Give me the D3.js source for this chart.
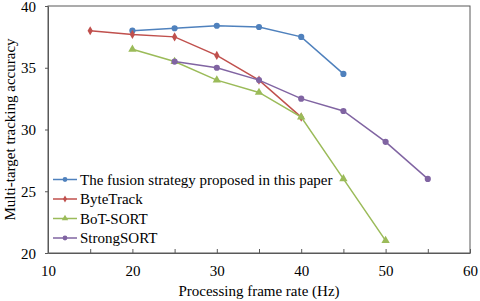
<!DOCTYPE html>
<html>
<head>
<meta charset="utf-8">
<script src="https://cdn.jsdelivr.net/npm/d3@7"></script>
<style>
  body { margin: 0; background: #fff; }
  svg text { font-family: "Liberation Serif", "Times New Roman", "DejaVu Serif", serif !important; fill: #000; }
</style>
</head>
<body>
<svg id="chart" width="480" height="301"></svg>
<script>
// frame rate (Hz) and accuracy
const fusion_x = [20, 25, 30, 35, 40, 45];
const fusion_y = [38.0, 38.2, 38.4, 38.3, 37.5, 34.5];
const byte_x = [15, 20, 25, 30, 35, 40];
const byte_y = [38.0, 37.7, 37.5, 36.0, 34.0, 31.0];
const bot_x = [20, 25, 30, 35, 40, 45, 50];
const bot_y = [36.5, 35.5, 34.0, 33.0, 31.0, 26.0, 21.0];
const strong_x = [25, 30, 35, 40, 45, 50, 55];
const strong_y = [35.5, 35.0, 34.0, 32.5, 31.5, 29.0, 26.0];

const names = ["The fusion strategy proposed in this paper", "ByteTrack", "BoT-SORT", "StrongSORT"];
const x_ticks = [10, 20, 30, 40, 50, 60];
const y_ticks = [20, 25, 30, 35, 40];

const series = [
    {name: names[0], xs: fusion_x, ys: fusion_y, color: "#4f81bd", shape: d3.symbolCircle, size: 30},
    {name: names[1], xs: byte_x, ys: byte_y, color: "#c0504d", shape: d3.symbolDiamond, size: 24},
    {name: names[2], xs: bot_x, ys: bot_y, color: "#9bbb59", shape: d3.symbolTriangle, size: 30},
    {name: names[3], xs: strong_x, ys: strong_y, color: "#8064a2", shape: d3.symbolCircle, size: 30}
];

const svg = d3.select('#chart');
const plot_left = 48, plot_right = 470, plot_top = 6, plot_bottom = 253;
const serif = '"Liberation Serif", "Times New Roman", serif';

const x = d3.scaleLinear().domain([10, 60]).range([plot_left, plot_right]);
const y = d3.scaleLinear().domain([20, 40]).range([plot_bottom, plot_top]);

const axis_color = "#595959";

// frame
svg.append('rect')
    .attr('x', plot_left).attr('y', plot_top)
    .attr('width', plot_right - plot_left).attr('height', plot_bottom - plot_top)
    .style('fill', 'none').style('stroke', axis_color).style('stroke-width', 1);

// x axis, ticks every 5 pointing inward
const x_axis = svg.append('g')
    .attr('transform', 'translate(0,' + plot_bottom + ')')
    .call(d3.axisBottom(x).tickValues(d3.range(10, 61, 5)).tickSizeInner(-4).tickSizeOuter(0)
        .tickFormat(d => x_ticks.includes(d) ? d : ""));
x_axis.attr('font-family', serif).attr('font-size', 15);
x_axis.select('.domain').style('stroke', axis_color);
x_axis.selectAll('line').style('stroke', axis_color);
x_axis.selectAll('text').attr('y', 12);

// y axis
const y_axis = svg.append('g')
    .attr('transform', 'translate(' + plot_left + ',0)')
    .call(d3.axisLeft(y).tickValues(y_ticks).tickSizeInner(3).tickSizeOuter(0));
y_axis.attr('font-family', serif).attr('font-size', 15);
y_axis.select('.domain').style('stroke', axis_color);
y_axis.selectAll('line').style('stroke', axis_color);
y_axis.selectAll('text').attr('x', -12).attr('dy', '0.34em');

// axis titles
svg.append('text')
    .attr('x', (plot_left + plot_right) / 2)
    .attr('y', 296)
    .attr('text-anchor', 'middle')
    .style('font-size', '15px')
    .text('Processing frame rate (Hz)');

svg.append('text')
    .attr('transform', 'translate(15,' + ((plot_top + plot_bottom) / 2) + ') rotate(-90)')
    .attr('text-anchor', 'middle')
    .style('font-size', '15px')
    .text('Multi-target tracking accuracy');

// lines and markers
const line = d3.line().x(d => x(d[0])).y(d => y(d[1]));

series.forEach(function(s) {
    const pts = s.xs.map((v, i) => [v, s.ys[i]]);
    svg.append('path')
        .attr('d', line(pts))
        .style('fill', 'none')
        .style('stroke', s.color)
        .style('stroke-width', 1.5);
    svg.append('g').selectAll('path')
        .data(pts)
        .join('path')
        .attr('transform', d => 'translate(' + x(d[0]) + ',' + y(d[1]) + ')')
        .attr('d', d3.symbol().type(s.shape).size(s.size))
        .style('fill', s.color);
});

// legend
const legend = svg.append('g');
series.forEach(function(s, i) {
    const ly = 179.5 + i * 19.5;
    legend.append('line')
        .attr('x1', 53).attr('x2', 77)
        .attr('y1', ly).attr('y2', ly)
        .style('stroke', s.color).style('stroke-width', 1.5);
    legend.append('path')
        .attr('transform', 'translate(65,' + ly + ')')
        .attr('d', d3.symbol().type(s.shape).size(s.size * 0.6))
        .style('fill', s.color);
    legend.append('text')
        .attr('x', 80).attr('y', ly)
        .attr('dy', '0.35em')
        .style('font-size', '15px')
        .text(s.name);
});
</script>
</body>
</html>
